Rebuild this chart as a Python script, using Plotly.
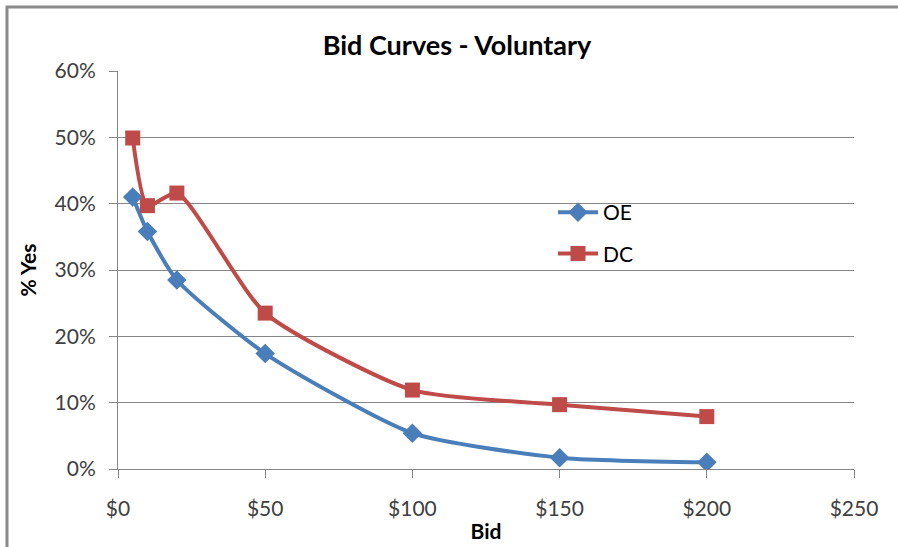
import plotly.graph_objects as go

# Bid amounts (dollars) and share answering "yes" (%)
bids = [5, 10, 20, 50, 100, 150, 200]
oe_yes = [41.0, 35.8, 28.5, 17.4, 5.4, 1.7, 1.0]
dc_yes = [49.9, 39.7, 41.6, 23.5, 11.9, 9.7, 7.9]

x_ticks = [0, 50, 100, 150, 200, 250]
x_tick_labels = ["$0", "$50", "$100", "$150", "$200", "$250"]
y_ticks = [0, 10, 20, 30, 40, 50, 60]
y_tick_labels = ["0%", "10%", "20%", "30%", "40%", "50%", "60%"]

W, H = 898, 547
L, R, T, B = 118, 44, 71, 78
pw, ph = W - L - R, H - T - B

def px_to_paper_x(px):
    return (px - L) / pw

def px_to_paper_y(py):
    return (H - B - py) / ph

FONT = "Lato, 'Open Sans', sans-serif"
BLUE = "#4a7ebb"
RED = "#be4b48"
GRID = "#868686"

fig = go.Figure()
fig.add_trace(go.Scatter(
    x=bids, y=oe_yes, name="OE", mode="lines+markers",
    line=dict(color=BLUE, width=4, shape="spline", smoothing=0.6),
    marker=dict(symbol="diamond", size=15, color=BLUE),
    legendgroup="oe",
))
fig.add_trace(go.Scatter(
    x=bids, y=dc_yes, name="DC", mode="lines+markers",
    line=dict(color=RED, width=4, shape="spline", smoothing=0.6),
    marker=dict(symbol="square", size=15, color=RED),
    legendgroup="dc",
))

fig.update_layout(
    width=W, height=H,
    margin=dict(l=L, r=R, t=T, b=B),
    paper_bgcolor="white", plot_bgcolor="white",
    font=dict(family=FONT, size=21, color="#404040"),
    title=dict(text="<b>Bid Curves - Voluntary</b>", x=px_to_paper_x(457), xref="paper",
               xanchor="center", y=1 - 46 / H, yanchor="middle",
               font=dict(family=FONT, size=27, color="black")),
    showlegend=True,
    legend=dict(x=px_to_paper_x(553), y=px_to_paper_y(192), xanchor="left", yanchor="top",
                bgcolor="rgba(0,0,0,0)", font=dict(family=FONT, size=21, color="black"),
                tracegroupgap=11, itemwidth=40),
    xaxis=dict(range=[0, 250], tickvals=x_ticks, ticktext=x_tick_labels, automargin=False,
               tickfont=dict(family=FONT, size=21, color="#404040"),
               showgrid=False, zeroline=False, showline=True, linecolor=GRID, linewidth=1,
               ticks="outside", ticklen=8, tickcolor=GRID, ticklabelstandoff=13,
               title=dict(text="<b>Bid</b>", standoff=5,
                          font=dict(family=FONT, size=21, color="black"))),
    yaxis=dict(range=[0, 60], tickvals=y_ticks, ticktext=y_tick_labels, automargin=False,
               tickfont=dict(family=FONT, size=21, color="#404040"),
               showgrid=True, gridcolor=GRID, gridwidth=1, zeroline=False,
               showline=True, linecolor=GRID, linewidth=1,
               ticks="outside", ticklen=8, tickcolor=GRID, ticklabelstandoff=9,
               title=dict(text="<b>% Yes</b>", standoff=12,
                          font=dict(family=FONT, size=21, color="black"))),
)

# Chart-area border (left and top edges visible)
fig.add_shape(type="rect", xref="paper", yref="paper",
              x0=px_to_paper_x(7), x1=px_to_paper_x(915),
              y0=px_to_paper_y(560), y1=px_to_paper_y(7),
              line=dict(color="#8a8a8a", width=3), fillcolor="rgba(0,0,0,0)", layer="below")

fig.write_html("out.html")
